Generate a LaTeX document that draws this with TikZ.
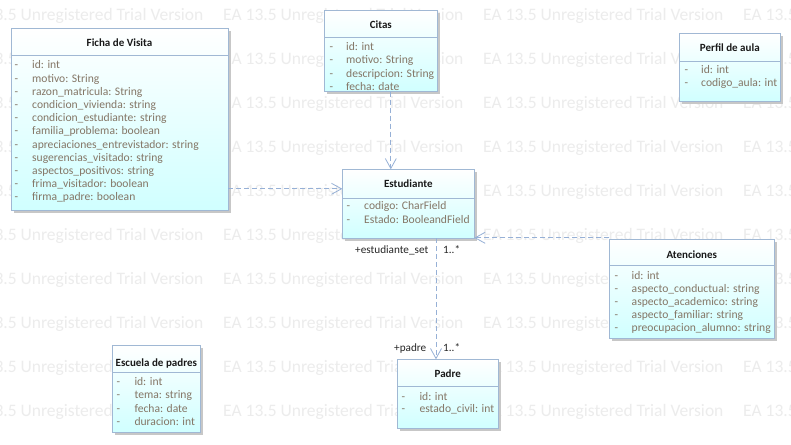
\documentclass[tikz,border=0pt]{standalone}
\usepackage{fontspec}
\setmainfont{Carlito}
\usetikzlibrary{arrows.meta,shadows,calc}
\definecolor{wmc}{RGB}{236,236,236}
\definecolor{bordc}{RGB}{160,184,212}
\definecolor{attrc}{RGB}{132,118,102}
\definecolor{linec}{RGB}{150,176,214}
\definecolor{fillb}{RGB}{208,255,255}
\tikzset{
 classbox/.style={draw=bordc, line width=0.8pt, top color=white, bottom color=fillb, anchor=north west, inner sep=0pt, outer sep=0pt,
   drop shadow={shadow xshift=2.5pt, shadow yshift=-2.5pt, fill=black!22, opacity=1}},
 divider/.style={draw=bordc, line width=0.8pt},
 ctitle/.style={font=\fontsize{11}{12}\selectfont\bfseries, text=black!90, inner sep=0pt, anchor=base},
 attr/.style={font=\fontsize{11.6}{13}\selectfont, text=attrc, anchor=base west, inner sep=0pt},
 wm/.style={font=\fontsize{17.5}{20}\selectfont, text=wmc, anchor=base west, inner sep=0pt},
 dep/.style={draw=linec, line width=0.8pt, dash pattern=on 5pt off 3pt, -{Straight Barb[length=10pt,width=11pt,line width=0.8pt]}},
 lbl/.style={font=\fontsize{11.2}{13}\selectfont, text=black!85, anchor=base west, inner sep=0pt},
}
\begin{document}
\begin{tikzpicture}[x=1pt,y=-1pt]
\useasboundingbox (0,0) rectangle (791,444);
\fill[white] (0,0) rectangle (791,444);
% watermark
\foreach \k in {0,...,9} {
  \foreach \j in {0,...,3} {
    \node[wm] (wm-\k-\j) at (-37+260*\j, 20.7+44*\k) {EA 13.5 Unregistered Trial Version};
  }
}
% boxes
\node[classbox, minimum width=217pt, minimum height=182pt] (ficha) at (11,28.3) {};
\node[classbox, minimum width=113pt, minimum height=81pt] (citas) at (324.3,10.7) {};
\node[classbox, minimum width=101pt, minimum height=68pt] (perfil) at (679.3,33.3) {};
\node[classbox, minimum width=132pt, minimum height=69pt] (estudiante) at (342.3,169.3) {};
\node[classbox, minimum width=165pt, minimum height=99pt] (atenciones) at (609.3,239.3) {};
\node[classbox, minimum width=101pt, minimum height=69pt] (padre) at (397.3,359.3) {};
\node[classbox, minimum width=88pt, minimum height=87pt] (escuela) at (112.3,345) {};
% connectors
\draw[dep] ($(ficha.north east)+(0,160.5)$) -- ($(estudiante.north west)+(0,19.5)$);
\draw[dep] ($(citas.south west)+(66.5,0)$) -- ($(estudiante.north west)+(48.5,0)$);
\draw[dep] ($(atenciones.north west)+(0,-1.5)$) -- ($(estudiante.south east)+(0,-0.5)$);
\draw[dep] ($(estudiante.south west)+(93.7,0)$) -- ($(padre.north west)+(38.7,0)$);
\node[lbl] (l1) at (355,253.5) {+estudiante\_set};
\node[lbl] (l2) at (443,253.5) {1..*};
\node[lbl] (l3) at (394,351.5) {+padre};
\node[lbl] (l4) at (443,351.5) {1..*};
% Ficha de Visita
\draw[divider] (11,55) -- (228,55);
\node[ctitle] (ficha-t) at (119.5,46.7) {Ficha de Visita};
\foreach \t [count=\i from 0] in {id: int, motivo: String, razon\_matricula: String, condicion\_vivienda: string, condicion\_estudiante: string, familia\_problema: boolean, apreciaciones\_entrevistador: string, sugerencias\_visitado: string, aspectos\_positivos: string, frima\_visitador: boolean, firma\_padre: boolean} {
  \node[attr] (ficha-d\i) at (14.5, 68.8+13.2*\i) {-};
  \node[attr] (ficha-a\i) at (32, 68.8+13.2*\i) {\t};
}
% Citas
\draw[divider] (324.3,37.5) -- (437.3,37.5);
\node[ctitle] (citas-t) at (380.8,29) {Citas};
\foreach \t [count=\i from 0] in {id: int, motivo: String, descripcion: String, fecha: date} {
  \node[attr] (citas-d\i) at (329.5, 50.8+13.1*\i) {-};
  \node[attr] (citas-a\i) at (346, 50.8+13.1*\i) {\t};
}
% Perfil de aula
\draw[divider] (679.3,61.7) -- (780.3,61.7);
\node[ctitle] (perfil-t) at (729.8,51.7) {Perfil de aula};
\foreach \t [count=\i from 0] in {id: int, codigo\_aula: int} {
  \node[attr] (perfil-d\i) at (684.5, 74+12.8*\i) {-};
  \node[attr] (perfil-a\i) at (701, 74+12.8*\i) {\t};
}
% Estudiante
\draw[divider] (342.3,198) -- (474.3,198);
\node[ctitle] (est-t) at (408.3,187.3) {Estudiante};
\foreach \t [count=\i from 0] in {codigo: CharField, Estado: BooleandField} {
  \node[attr] (est-d\i) at (346.5, 209.5+13.6*\i) {-};
  \node[attr] (est-a\i) at (364, 209.5+13.6*\i) {\t};
}
% Atenciones
\draw[divider] (609.3,265.7) -- (774.3,265.7);
\node[ctitle] (at-t) at (691.8,258.3) {Atenciones};
\foreach \t [count=\i from 0] in {id: int, aspecto\_conductual: string, aspecto\_academico: string, aspecto\_familiar: string, preocupacion\_alumno: string} {
  \node[attr] (at-d\i) at (614.5, 279+13.1*\i) {-};
  \node[attr] (at-a\i) at (631.5, 279+13.1*\i) {\t};
}
% Padre
\draw[divider] (397.3,386.7) -- (498.3,386.7);
\node[ctitle] (padre-t) at (447.8,377.3) {Padre};
\foreach \t [count=\i from 0] in {id: int, estado\_civil: int} {
  \node[attr] (padre-d\i) at (401.5, 400+12.8*\i) {-};
  \node[attr] (padre-a\i) at (419.3, 400+12.8*\i) {\t};
}
% Escuela de padres
\draw[divider] (112.3,372.7) -- (200.3,372.7);
\node[ctitle] (esc-t) at (156.3,366) {Escuela de padres};
\foreach \t [count=\i from 0] in {id: int, tema: string, fecha: date, duracion: int} {
  \node[attr] (esc-d\i) at (116.5, 385.7+13.2*\i) {-};
  \node[attr] (esc-a\i) at (134.3, 385.7+13.2*\i) {\t};
}
\end{tikzpicture}
\end{document}
